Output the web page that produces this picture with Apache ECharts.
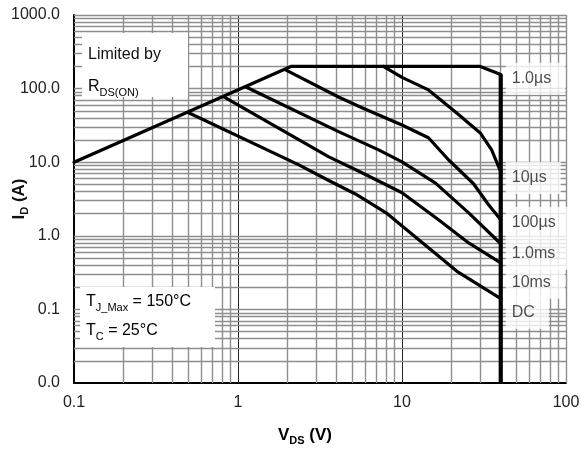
<!DOCTYPE html>
<html>
<head>
<meta charset="utf-8">
<script src="https://cdn.jsdelivr.net/npm/echarts@6/dist/echarts.min.js"></script>
<style>
  html, body { margin: 0; padding: 0; background: #fff; }
  #chart { width: 581px; height: 450px; }
</style>
</head>
<body>
<div id="chart"></div>
<script>
// Safe operating area: drain current I_D (A) against drain-source voltage V_DS (V), log-log.
const xTicks = [0.1, 1, 10, 100];
const yTicks = [0.01, 0.1, 1, 10, 100, 1000];
const minorSteps = [1, 2, 3, 4, 5, 6, 7, 8, 9];

const vdsMax = 40;                 // V_DS breakdown limit
const breakdown = [[40, 155], [40, 0.01]];

// [V_DS, I_D] points per pulse width
const pulse1us   = [[0.1, 10], [2.1, 200], [30, 200], [40, 155]];
const pulse10us  = [[7.7, 200], [10, 142], [14.5, 96], [21.2, 48], [30, 25], [35.2, 14.7], [40, 7.4]];
const pulse100us = [[1.95, 180], [4.1, 77], [5.7, 55], [10, 32], [14.5, 21.5], [19.2, 10.8], [27.3, 5.1], [33.7, 2.64], [40, 1.65]];
const pulse1ms   = [[1.12, 105], [4.1, 26], [7.2, 14.7], [10, 10.1], [16, 5.2], [25.5, 2.05], [40, 0.78]];
const pulse10ms  = [[0.82, 77], [3.58, 11.8], [5.7, 7.2], [10, 3.84], [16.7, 1.65], [25.5, 0.8], [40, 0.43]];
const pulseDC    = [[0.5, 47], [2.35, 9.2], [3.6, 5.6], [5.2, 3.7], [8, 2.05], [13.2, 0.82], [22, 0.32], [40, 0.14]];

const curveNames  = ['1.0µs', '10µs', '100µs', '1.0ms', '10ms', 'DC'];
const curveLabelI = [136, 6.1, 1.5, 0.57, 0.23, 0.09];   // label anchors along V_DS = vdsMax

const FONT = "'Liberation Sans', Arial, sans-serif";
const GRID_GRAY = '#8e8e8e';

// grid lines at 1..9 x each decade
function decadeLines(ticks) {
  const out = [];
  for (let i = 0; i < ticks.length - 1; i++) {
    minorSteps.forEach(s => out.push(+(ticks[i] * s).toPrecision(3)));
  }
  out.push(ticks[ticks.length - 1]);
  return out;
}
const xGrid = decadeLines(xTicks);
const yGrid = decadeLines(yTicks);

const gridMarks = [];
xGrid.forEach(v => {
  if (v === xTicks[0]) return;
  const major = xTicks.indexOf(v) > 0 && v !== xTicks[xTicks.length - 1];
  gridMarks.push({
    xAxis: v,
    lineStyle: major ? { color: '#222', width: 1, type: 'solid' } : { color: GRID_GRAY, width: 1.4, type: 'solid' }
  });
});
yGrid.forEach(v => {
  if (v === yTicks[0]) return;
  gridMarks.push({ yAxis: v, lineStyle: { color: GRID_GRAY, width: 1.4, type: 'solid' } });
});

function curve(name, data) {
  return {
    name, type: 'line', data, symbol: 'none', z: 10,
    lineStyle: { color: '#000', width: 3.2, cap: 'round', join: 'round' },
    animation: false, silent: true
  };
}

const subStyle  = { fontSize: 11, verticalAlign: 'bottom', lineHeight: 22, fontFamily: FONT, color: '#111' };
const mainStyle = { fontSize: 16, lineHeight: 22, fontFamily: FONT, color: '#111' };
const boldMain  = { fontSize: 17, fontWeight: 'bold', lineHeight: 22, fontFamily: FONT, color: '#111' };
const boldSub   = { fontSize: 11, fontWeight: 'bold', verticalAlign: 'bottom', lineHeight: 22, fontFamily: FONT, color: '#111' };

const option = {
  backgroundColor: '#fff',
  animation: false,
  grid: { left: 74, right: 15, top: 15, bottom: 67, containLabel: false, outerBoundsMode: 'none' },
  xAxis: {
    type: 'log', logBase: 10, min: xTicks[0], max: xTicks[xTicks.length - 1],
    axisLine: { show: true, onZero: false, lineStyle: { color: '#000', width: 2 } },
    axisTick: { show: false },
    splitLine: { show: false },
    minorTick: { show: false },
    axisLabel: {
      margin: 12, fontSize: 16, fontFamily: FONT, color: '#222',
      formatter: v => String(+(+v).toPrecision(3))
    }
  },
  yAxis: {
    type: 'log', logBase: 10, min: yTicks[0], max: yTicks[yTicks.length - 1],
    axisLine: { show: true, onZero: false, lineStyle: { color: '#000', width: 2 } },
    axisTick: { show: false },
    splitLine: { show: false },
    minorTick: { show: false },
    axisLabel: {
      margin: 14, fontSize: 16, fontFamily: FONT, color: '#222',
      formatter: v => (+v).toFixed(1)
    },
    name: '{b|I}{s|D}{b| (A)}',
    nameLocation: 'middle', nameGap: 44, nameMoveOverlap: false,
    nameTextStyle: { rich: { b: boldMain, s: boldSub } }
  },
  series: [
    {
      name: 'grid', type: 'line', data: [], z: 1, silent: true,
      markLine: {
        z: 1, silent: true, symbol: ['none', 'none'], animation: false,
        label: { show: false }, emphasis: { disabled: true },
        lineStyle: { type: 'solid' },
        data: gridMarks
      }
    },
    curve('1.0µs', pulse1us),
    curve('10µs', pulse10us),
    curve('100µs', pulse100us),
    curve('1.0ms', pulse1ms),
    curve('10ms', pulse10ms),
    curve('DC', pulseDC),
    {
      name: 'breakdown', type: 'line', data: breakdown, symbol: 'none', z: 11,
      lineStyle: { color: '#000', width: 4.2, cap: 'butt' }, silent: true
    },
    {
      name: 'labels', type: 'scatter', z: 12, silent: true, symbolSize: 0,
      data: curveNames.map((n, i) => ({ value: [vdsMax, curveLabelI[i]], name: n })),
      label: {
        show: true, position: 'right', distance: 5,
        formatter: p => p.name,
        fontSize: 16, fontFamily: FONT, color: '#222',
        backgroundColor: '#fff', padding: [7, 14, 7, 6], lineHeight: 18
      }
    }
  ],
  graphic: [
    {
      type: 'group', left: 82, top: 33,
      children: [
        { type: 'rect', z: 50, shape: { x: 0, y: 0, width: 106, height: 64 }, style: { fill: '#fff' } },
        { type: 'text', z: 51, x: 6, y: 22, style: { text: 'Limited by', font: '16px ' + FONT, fill: '#111', verticalAlign: 'middle' } },
        {
          type: 'text', z: 51, x: 6, y: 54,
          style: { text: '{m|R}{s|DS(ON)}', verticalAlign: 'middle', rich: { m: mainStyle, s: subStyle } }
        }
      ]
    },
    {
      type: 'group', left: 80, top: 287,
      children: [
        { type: 'rect', z: 50, shape: { x: 0, y: 0, width: 135, height: 60 }, style: { fill: '#fff' } },
        {
          type: 'text', z: 51, x: 6, y: 15,
          style: { text: '{m|T}{s|J_Max}{m| = 150°C}', verticalAlign: 'middle', rich: { m: mainStyle, s: subStyle } }
        },
        {
          type: 'text', z: 51, x: 6, y: 44,
          style: { text: '{m|T}{s|C}{m| = 25°C}', verticalAlign: 'middle', rich: { m: mainStyle, s: subStyle } }
        }
      ]
    },
    {
      // horizontal axis title
      type: 'text', z: 51, x: 305, y: 435,
      style: { text: '{b|V}{s|DS}{b| (V)}', align: 'center', verticalAlign: 'middle', rich: { b: boldMain, s: boldSub } }
    }
  ]
};

const chart = echarts.init(document.getElementById('chart'), null, { renderer: 'canvas' });
chart.setOption(option);
</script>
</body>
</html>
